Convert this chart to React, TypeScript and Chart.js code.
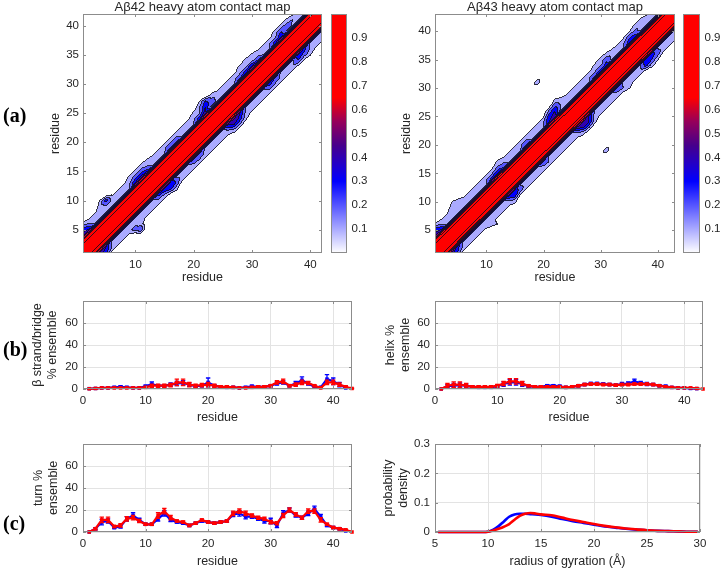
import React, { useEffect, useRef } from 'react';
import { Chart, registerables } from 'chart.js';
Chart.register(...registerables);

const FONT = '"Liberation Sans", Arial, Helvetica, sans-serif';
const TEXT = '#262626';
const AXIS = '#8c8c8c';
const GRID = '#e3e3e3';
const BLUE = '#0000ff';
const RED = '#ff0000';

// ---------------- (a) contact maps ----------------
const nRes42 = 42;
const nRes43 = 43;
const mapTicksX = [10, 20, 30, 40];
const mapTicksY = [5, 10, 15, 20, 25, 30, 35, 40];
const contourLevels = [0.1, 0.2, 0.3, 0.4, 0.5, 0.6, 0.7, 0.8, 0.9];
const colorbarTicks = [0.1, 0.2, 0.3, 0.4, 0.5, 0.6, 0.7, 0.8, 0.9];
// colormap stops: [value, r, g, b]
const colormapStops = [
  [0, 255, 255, 255],
  [0.3, 0, 0, 255],
  [0.45, 70, 0, 140],
  [0.55, 150, 0, 90],
  [0.65, 255, 0, 0],
  [1, 255, 0, 0],
];
// contact probability vs sequence separation |i-j|
const bandProfile42 = [1.0, 0.95, 0.85, 0.19, 0.17, 0.07, 0.0];
const bandProfile43 = [1.0, 0.95, 0.85, 0.19, 0.17, 0.07, 0.0];
// additional contacts: [x residue, y residue, probability]
const contacts42 = [
  [1, 4, 0.45], [2, 5, 0.4], [1, 5, 0.35], [2, 6, 0.2], [1, 6, 0.12],
  [5, 9, 0.2], [5, 10, 0.35], [4, 9, 0.15], [4, 10, 0.12], [6, 10, 0.18],
  [10, 13, 0.4], [11, 14, 0.45], [12, 15, 0.35], [10, 14, 0.25], [11, 15, 0.25], [10, 15, 0.14], [11, 16, 0.14], [9, 14, 0.12], [12, 17, 0.1],
  [16, 19, 0.3], [17, 20, 0.3], [16, 20, 0.18], [17, 21, 0.18],
  [21, 24, 0.35], [22, 25, 0.45], [22, 26, 0.4], [22, 27, 0.3], [21, 26, 0.18], [23, 27, 0.25], [23, 28, 0.14], [21, 27, 0.1], [20, 25, 0.12],
  [28, 31, 0.3], [29, 32, 0.35], [30, 33, 0.4], [31, 34, 0.3], [28, 33, 0.14], [29, 34, 0.15], [30, 35, 0.12],
  [34, 37, 0.35], [35, 38, 0.4], [35, 39, 0.3], [36, 40, 0.25], [34, 39, 0.14], [35, 40, 0.14], [36, 41, 0.12], [37, 41, 0.2],
  [4, 1, 0.45], [5, 2, 0.4], [5, 1, 0.35], [6, 2, 0.2],
  [10, 5, 0.25], [11, 5, 0.3], [10, 6, 0.18], [11, 6, 0.15],
  [14, 11, 0.35], [15, 12, 0.4], [16, 13, 0.4], [16, 12, 0.35], [17, 13, 0.3], [17, 12, 0.15], [15, 11, 0.2],
  [20, 17, 0.3], [21, 18, 0.3], [21, 17, 0.2],
  [26, 23, 0.4], [27, 24, 0.5], [28, 25, 0.4], [27, 23, 0.4], [28, 24, 0.35], [27, 22, 0.15], [28, 23, 0.18], [29, 24, 0.12], [26, 22, 0.2],
  [33, 30, 0.35], [34, 31, 0.3], [33, 29, 0.2], [34, 30, 0.2],
  [38, 35, 0.4], [39, 36, 0.35], [38, 34, 0.3], [39, 35, 0.25], [40, 35, 0.12], [40, 36, 0.2],
];
const contacts43 = [
  [1, 4, 0.45], [2, 5, 0.4], [1, 5, 0.35], [2, 6, 0.2], [1, 6, 0.12],
  [5, 9, 0.18], [5, 10, 0.16], [4, 9, 0.14], [4, 10, 0.1],
  [11, 14, 0.35], [12, 15, 0.4], [13, 16, 0.3], [12, 16, 0.22], [12, 17, 0.13], [13, 17, 0.15], [11, 15, 0.18],
  [17, 20, 0.3], [17, 21, 0.15],
  [21, 24, 0.4], [22, 25, 0.45], [21, 25, 0.35], [22, 26, 0.4], [21, 26, 0.2], [22, 27, 0.25], [23, 27, 0.2], [22, 28, 0.1], [23, 28, 0.13],
  [29, 32, 0.3], [30, 33, 0.35], [31, 34, 0.35], [31, 35, 0.25], [30, 35, 0.15], [31, 36, 0.12], [29, 34, 0.12],
  [35, 38, 0.35], [36, 39, 0.35], [35, 39, 0.25], [36, 40, 0.22], [36, 41, 0.12], [37, 42, 0.12],
  [19, 31, 0.18],
  [4, 1, 0.45], [5, 2, 0.35], [5, 1, 0.3], [6, 2, 0.15],
  [11, 6, 0.15], [12, 6, 0.1], [10, 6, 0.14],
  [14, 11, 0.4], [15, 12, 0.4], [15, 11, 0.35], [15, 10, 0.14], [16, 12, 0.25],
  [20, 17, 0.3], [21, 17, 0.2],
  [26, 23, 0.45], [27, 24, 0.5], [28, 25, 0.4], [27, 23, 0.4], [28, 24, 0.4], [28, 23, 0.2], [27, 22, 0.14], [29, 24, 0.14],
  [33, 30, 0.3], [34, 30, 0.2], [35, 30, 0.12],
  [38, 35, 0.4], [39, 36, 0.35], [38, 34, 0.35], [39, 34, 0.16], [39, 35, 0.3], [40, 36, 0.25], [40, 35, 0.12],
  [31, 19, 0.18],
];

// ---------------- (b), (c) secondary structure ----------------
const residues42 = Array.from({ length: 42 }, (_, i) => i + 1);
const residues43 = Array.from({ length: 43 }, (_, i) => i + 1);
const residueTicks = [0, 10, 20, 30, 40];
const percentTicks = [0, 20, 40, 60];

const strand42 = [0.3, 0.5, 1, 1, 1.5, 2, 1.5, 1, 1, 2.5, 4.5, 3, 3, 4, 5, 5.5, 4, 2.5, 3, 6, 3, 2, 1.5, 1.5, 1, 1.5, 2.5, 2, 2, 3, 5, 6, 3, 5, 8, 5, 2, 1.5, 9, 7, 4, 1];
const strand42Err = [0.3, 0.5, 0.5, 0.5, 0.8, 1, 0.8, 0.5, 0.5, 1, 2, 1, 1, 1.5, 2, 2, 1.5, 1, 1, 4, 1, 1, 0.8, 0.8, 0.5, 0.8, 1, 1, 1, 1, 1.5, 1.5, 1, 2, 3, 1.5, 1, 0.8, 4, 3, 2, 0.5];
const strand43 = [0.2, 0.5, 1, 1, 1, 1, 1, 1, 1, 1.5, 3, 3, 3, 3.5, 6, 6, 4, 3, 3.5, 4, 3, 2, 2, 1.5, 1, 1, 1.5, 2, 2, 3, 6, 7, 3, 4, 6, 5.5, 3, 1, 6, 6, 4, 2, 0.5];
const strand43Err = [0.2, 0.3, 0.5, 0.5, 0.5, 0.5, 0.5, 0.5, 0.5, 0.8, 1.5, 1.5, 1.5, 1.5, 3, 3, 2, 1.5, 1.5, 2, 1.5, 1, 1, 0.8, 0.5, 0.5, 0.8, 1, 1, 1, 1.5, 2, 1, 1.5, 2, 1.5, 1, 0.5, 2, 2, 1.5, 1, 0.3];

const helix42 = [0, 2.5, 3, 3.5, 3, 2, 1.5, 1.5, 1.5, 2.5, 4.5, 6, 6, 4.5, 2.5, 2, 2, 3, 3, 2.5, 1.5, 2, 3, 4, 5, 5, 4.5, 4, 3.5, 4.5, 5, 7, 5.5, 4.5, 4, 3, 2.5, 1.5, 1, 1, 0.5, 0.3];
const helix42Err = [0, 1.5, 2, 2, 1.5, 1, 0.8, 0.8, 0.8, 1, 2, 2.5, 2.5, 2, 1, 1, 1, 1, 1, 1, 0.8, 1, 1, 1, 1, 1, 1, 1, 1, 1.5, 1.5, 2, 1.5, 1.5, 1, 1, 1, 0.5, 0.5, 0.5, 0.3, 0.2];
const helix43 = [0, 3, 4, 4, 3, 2, 2, 2, 2, 3, 5, 7, 7, 5, 3, 2, 2, 2, 2, 2, 1.5, 2, 3, 4, 4.5, 4.5, 4, 4, 3.5, 4, 4, 4.5, 4.5, 4.5, 4, 3, 2, 1.5, 1, 1, 1, 0.5, 0];
const helix43Err = [0, 2, 2.5, 2.5, 2, 1, 1, 1, 1, 1.2, 2, 2.5, 2.5, 2, 1, 1, 1, 1, 1, 1, 0.8, 1, 1, 1, 1, 1, 1, 1, 1, 1, 1, 1, 1, 1, 1, 0.8, 0.8, 0.5, 0.5, 0.5, 0.5, 0.3, 0];

const turn42 = [0, 3, 9, 10, 4, 5, 12, 15, 11, 7, 7, 12, 17, 11, 9, 8, 6, 8, 10, 9, 8, 9, 10, 16, 17, 14, 14, 12, 10, 10, 6, 17, 20, 15, 13, 17, 21, 14, 6, 4, 3, 1];
const turn42Err = [0, 1, 2.5, 2, 1, 1.5, 2, 2.5, 1.5, 1, 1, 2, 2.5, 1.5, 1, 1, 1, 1, 1, 1, 1, 1, 1, 2, 2.5, 2, 1.5, 1.5, 2, 2.5, 2, 2.5, 2, 1.5, 1.5, 2, 2.5, 2, 1, 1, 1, 0.5];
const turn43 = [0, 3, 11, 11, 5, 6, 12, 13, 10, 7, 7, 15, 19, 13, 10, 9, 6, 8, 11, 9, 8, 9, 10, 17, 19, 17, 15, 13, 12, 9, 8, 15, 20, 16, 13, 19, 19, 11, 7, 4, 3, 2, 0];
const turn43Err = [0, 1, 2.5, 2.5, 1, 1.5, 2, 2, 1.5, 1, 1, 2.5, 2.5, 2, 1, 1, 1, 1, 1, 1, 1, 1, 1, 2, 2, 2, 1.5, 1.5, 1.5, 1.5, 1.5, 2, 2, 1.5, 1.5, 2, 2, 2, 1, 1, 1, 0.5, 0];

// ---------------- (c) radius of gyration ----------------
const rgAxis = [5.3, 6, 7, 8, 9, 9.5, 10, 10.5, 11, 11.5, 12, 12.5, 13, 13.5, 14, 14.5, 15, 16, 17, 18, 19, 20, 21, 22, 23, 24, 25, 26, 27, 28, 29, 29.8];
const rgDensity42 = [0, 0, 0, 0, 0, 0, 0.001, 0.008, 0.02, 0.036, 0.052, 0.06, 0.062, 0.062, 0.061, 0.06, 0.058, 0.052, 0.044, 0.037, 0.031, 0.025, 0.019, 0.015, 0.011, 0.008, 0.006, 0.004, 0.003, 0.002, 0.001, 0.001];
const rgDensity43 = [0, 0, 0, 0, 0, 0, 0.001, 0.005, 0.011, 0.018, 0.027, 0.042, 0.055, 0.062, 0.065, 0.063, 0.06, 0.057, 0.049, 0.041, 0.034, 0.027, 0.021, 0.016, 0.012, 0.009, 0.006, 0.004, 0.003, 0.002, 0.001, 0.001];
const rgTicks = [5, 10, 15, 20, 25, 30];
const densityTicks = [0, 0.1, 0.2, 0.3];

// ---------------- helpers ----------------
function buildMatrix(n: number, profile: number[], contacts: number[][]) {
  const m: number[][] = [];
  for (let j = 0; j < n; j++) {
    const row: number[] = [];
    for (let i = 0; i < n; i++) {
      const d = Math.abs(i - j);
      row.push(d < profile.length ? profile[d] : 0);
    }
    m.push(row);
  }
  for (const [x, y, p] of contacts) {
    m[y - 1][x - 1] = Math.max(m[y - 1][x - 1], p);
  }
  return m;
}

function cmap(v: number): number[] {
  for (let k = 1; k < colormapStops.length; k++) {
    const a = colormapStops[k - 1];
    const b = colormapStops[k];
    if (v <= b[0]) {
      const t = (v - a[0]) / (b[0] - a[0]);
      return [a[1] + (b[1] - a[1]) * t, a[2] + (b[2] - a[2]) * t, a[3] + (b[3] - a[3]) * t];
    }
  }
  const l = colormapStops[colormapStops.length - 1];
  return [l[1], l[2], l[3]];
}

// linear interpolation on triangles split parallel to the main diagonal
function sample(m: number[][], X: number, Y: number) {
  const n = m.length;
  const cx = Math.min(Math.max(X, 1), n);
  const cy = Math.min(Math.max(Y, 1), n);
  let i0 = Math.floor(cx);
  let j0 = Math.floor(cy);
  if (i0 >= n) i0 = n - 1;
  if (j0 >= n) j0 = n - 1;
  const fx = cx - i0;
  const fy = cy - j0;
  const A = m[j0 - 1][i0 - 1], B = m[j0 - 1][i0], C = m[j0][i0 - 1], D = m[j0][i0];
  if (fy >= fx) return A + (D - C) * fx + (C - A) * fy;
  return A + (B - A) * fx + (D - B) * fy;
}

const contourPlugin = {
  id: 'contourFill',
  beforeDatasetsDraw(chart: any, _args: any, opts: any) {
    const m = opts && opts.matrix;
    if (!m) return;
    const { left, top, right, bottom } = chart.chartArea;
    const x0 = Math.round(left), y0 = Math.round(top);
    const w = Math.round(right) - x0, h = Math.round(bottom) - y0;
    const xs = chart.scales.x, ys = chart.scales.y;
    const colX = new Float64Array(w);
    const rowY = new Float64Array(h);
    for (let i = 0; i < w; i++) colX[i] = xs.getValueForPixel(x0 + i + 0.5);
    for (let j = 0; j < h; j++) rowY[j] = ys.getValueForPixel(y0 + j + 0.5);
    const lvl = new Int8Array(w * h);
    for (let j = 0; j < h; j++) {
      for (let i = 0; i < w; i++) {
        const v = sample(m, colX[i], rowY[j]);
        let k = 0;
        while (k < contourLevels.length && v >= contourLevels[k]) k++;
        lvl[j * w + i] = k;
      }
    }
    const fills = [[255, 255, 255], ...contourLevels.map((L) => cmap(L))];
    const off = document.createElement('canvas');
    off.width = w;
    off.height = h;
    const octx = off.getContext('2d')!;
    const img = octx.createImageData(w, h);
    for (let j = 0; j < h; j++) {
      for (let i = 0; i < w; i++) {
        const p = j * w + i;
        const k = lvl[p];
        let c = fills[k];
        const edge = (i + 1 < w && lvl[p + 1] !== k) || (j + 1 < h && lvl[p + w] !== k);
        if (edge) {
          const t = 0.85;
          c = [c[0] * (1 - t) + 15 * t, c[1] * (1 - t) + 15 * t, c[2] * (1 - t) + 30 * t];
        }
        img.data[p * 4] = c[0];
        img.data[p * 4 + 1] = c[1];
        img.data[p * 4 + 2] = c[2];
        img.data[p * 4 + 3] = 255;
      }
    }
    octx.putImageData(img, 0, 0);
    chart.ctx.drawImage(off, x0, y0);
  },
};

const boxPlugin = {
  id: 'matlabBox',
  afterDatasetsDraw(chart: any, _args: any, opts: any) {
    const ctx = chart.ctx;
    const { left, top, right, bottom } = chart.chartArea;
    ctx.save();
    ctx.strokeStyle = AXIS;
    ctx.lineWidth = 1;
    ctx.strokeRect(left + 0.5, top + 0.5, right - left - 1, bottom - top - 1);
    const tl = opts && opts.tickLength != null ? opts.tickLength : 0;
    if (tl > 0) {
      ctx.beginPath();
      const xs = chart.scales.x, ys = chart.scales.y;
      if (xs && xs.ticks) {
        for (const t of xs.ticks) {
          const p = Math.round(xs.getPixelForValue(t.value)) + 0.5;
          ctx.moveTo(p, bottom); ctx.lineTo(p, bottom - tl);
          ctx.moveTo(p, top); ctx.lineTo(p, top + tl);
        }
      }
      if (ys && ys.ticks) {
        for (const t of ys.ticks) {
          const p = Math.round(ys.getPixelForValue(t.value)) + 0.5;
          ctx.moveTo(left, p); ctx.lineTo(left + tl, p);
          ctx.moveTo(right, p); ctx.lineTo(right - tl, p);
        }
      }
      ctx.stroke();
    }
    ctx.restore();
  },
};

const topTitlePlugin = {
  id: 'topTitle',
  afterDraw(chart: any, _args: any, opts: any) {
    if (!opts || !opts.text) return;
    const ctx = chart.ctx;
    const a = chart.chartArea;
    ctx.save();
    ctx.font = `${opts.size || 13}px ${FONT}`;
    ctx.fillStyle = TEXT;
    ctx.textAlign = 'center';
    ctx.textBaseline = 'middle';
    ctx.fillText(opts.text, (a.left + a.right) / 2, a.top - (opts.offset || 7));
    ctx.restore();
  },
};

const errorBarPlugin = {
  id: 'errorBars',
  afterDatasetDraw(chart: any, args: any) {
    const ds = chart.data.datasets[args.index];
    if (!ds.errors) return;
    const ys = chart.scales.y;
    const ctx = chart.ctx;
    const a = chart.chartArea;
    ctx.save();
    ctx.beginPath();
    ctx.rect(a.left - 4, a.top, a.right - a.left + 8, a.bottom - a.top + 4);
    ctx.clip();
    ctx.strokeStyle = ds.borderColor;
    ctx.lineWidth = 1.3;
    ctx.beginPath();
    args.meta.data.forEach((pt: any, k: number) => {
      const e = ds.errors[k];
      if (!e) return;
      const v = ds.data[k].y;
      const y1 = ys.getPixelForValue(v + e);
      const y2 = ys.getPixelForValue(v - e);
      ctx.moveTo(pt.x, y1); ctx.lineTo(pt.x, y2);
      ctx.moveTo(pt.x - 2.2, y1); ctx.lineTo(pt.x + 2.2, y1);
      ctx.moveTo(pt.x - 2.2, y2); ctx.lineTo(pt.x + 2.2, y2);
    });
    ctx.stroke();
    ctx.restore();
  },
};

const tickFont = { family: FONT, size: 11.5 };
const labelFont = { family: FONT, size: 12.5, lineHeight: 1.2 };

function fixedAxis(size: number, horizontal: boolean) {
  return (s: any) => {
    if (horizontal) s.height = size; else s.width = size;
    s.paddingLeft = 0; s.paddingRight = 0; s.paddingTop = 0; s.paddingBottom = 0;
  };
}

function setTicks(values: number[]) {
  return (s: any) => { s.ticks = values.map((v) => ({ value: v })); };
}

function mapConfig(title: string, n: number, matrix: number[][], yWidth: number, yTitlePad: number) {
  return {
    type: 'scatter',
    data: { datasets: [{ data: [] as any[], pointRadius: 0 }] },
    options: {
      responsive: false,
      animation: false,
      events: [],
      layout: { padding: { top: 14, right: 8, left: 0, bottom: 0 } },
      plugins: {
        legend: { display: false },
        tooltip: { enabled: false },
        contourFill: { matrix },
        topTitle: { text: title, size: 13, offset: 7 },
        matlabBox: { tickLength: 3 },
      },
      scales: {
        x: {
          type: 'linear', min: 1, max: n,
          afterBuildTicks: setTicks(mapTicksX),
          afterFit: fixedAxis(37, true),
          grid: { display: false, drawTicks: false },
          border: { display: false },
          ticks: { color: TEXT, font: tickFont, padding: 4.5, maxRotation: 0, autoSkip: false },
          title: { display: true, text: 'residue', color: TEXT, font: labelFont, padding: { top: 0, bottom: 4.5 } },
        },
        y: {
          type: 'linear', min: 1, max: n,
          afterBuildTicks: setTicks(mapTicksY),
          afterFit: fixedAxis(yWidth, false),
          grid: { display: false, drawTicks: false },
          border: { display: false },
          ticks: { color: TEXT, font: tickFont, padding: 4, autoSkip: false },
          title: { display: true, text: 'residue', color: TEXT, font: labelFont, padding: { top: yTitlePad, bottom: 0 } },
        },
      },
    },
    plugins: [contourPlugin, boxPlugin, topTitlePlugin],
  };
}

function colorbarGradient(chart: any) {
  const a = chart.chartArea;
  const y = chart.scales.y;
  if (!a || !y) return 'rgba(0,0,0,0)';
  const g = chart.ctx.createLinearGradient(0, y.getPixelForValue(0), 0, y.getPixelForValue(1));
  colormapStops.forEach((s) => g.addColorStop(s[0], `rgb(${s[1]},${s[2]},${s[3]})`));
  return g;
}

function colorbarConfig() {
  return {
    type: 'bar',
    data: {
      labels: [''],
      datasets: [{
        data: [1],
        backgroundColor: (c: any) => colorbarGradient(c.chart),
        borderWidth: 0,
        barPercentage: 1,
        categoryPercentage: 1,
      }],
    },
    options: {
      responsive: false,
      animation: false,
      events: [],
      layout: { padding: 0 },
      plugins: { legend: { display: false }, tooltip: { enabled: false }, matlabBox: { tickLength: 0 } },
      scales: {
        x: { display: false },
        y: {
          position: 'right', min: 0, max: 1,
          afterBuildTicks: setTicks(colorbarTicks),
          afterFit: fixedAxis(24, false),
          grid: { display: false, drawTicks: false },
          border: { display: false },
          ticks: { color: TEXT, font: tickFont, padding: 4.5, autoSkip: false, callback: (v: any) => Number(v).toFixed(1) },
        },
      },
    },
    plugins: [boxPlugin],
  };
}

function markerSeries(xs: number[], ys: number[], errs: number[], color: string, order: number) {
  return {
    data: xs.map((x, i) => ({ x, y: ys[i] })),
    errors: errs,
    order,
    showLine: true,
    borderColor: color,
    backgroundColor: color,
    borderWidth: 2.2,
    pointStyle: 'rect',
    pointRadius: 2.5,
    pointBorderWidth: 0,
    pointBackgroundColor: color,
    tension: 0,
    clip: 4,
  };
}

function curveSeries(xs: number[], ys: number[], color: string, order: number) {
  return {
    data: xs.map((x, i) => ({ x, y: ys[i] })),
    order,
    showLine: true,
    borderColor: color,
    backgroundColor: color,
    borderWidth: 2.6,
    pointRadius: 0,
    cubicInterpolationMode: 'monotone',
    clip: 4,
  };
}

function seriesConfig(o: any) {
  return {
    type: 'scatter',
    data: { datasets: o.datasets },
    options: {
      responsive: false,
      animation: false,
      events: [],
      layout: { padding: { top: o.padTop, right: o.padRight, left: 0, bottom: 0 } },
      plugins: { legend: { display: false }, tooltip: { enabled: false }, matlabBox: { tickLength: 3 } },
      scales: {
        x: {
          type: 'linear', min: o.xMin, max: o.xMax,
          afterBuildTicks: setTicks(o.xTicks),
          afterFit: fixedAxis(o.xHeight, true),
          grid: { color: GRID, lineWidth: 1, drawTicks: false },
          border: { display: false },
          ticks: { color: TEXT, font: tickFont, padding: 4.5, maxRotation: 0, autoSkip: false },
          title: { display: true, text: o.xTitle, color: TEXT, font: labelFont, padding: { top: 0, bottom: o.xTitlePad } },
        },
        y: {
          type: 'linear', min: 0, max: o.yMax,
          afterBuildTicks: setTicks(o.yTicks),
          afterFit: fixedAxis(o.yWidth, false),
          grid: { color: GRID, lineWidth: 1, drawTicks: false },
          border: { display: false },
          ticks: { color: TEXT, font: tickFont, padding: 5, autoSkip: false, callback: o.yFmt || ((v: any) => String(v)) },
          title: { display: true, text: o.yTitle, color: TEXT, font: labelFont, padding: { top: o.yTitlePad, bottom: 0 } },
        },
      },
    },
    plugins: [errorBarPlugin, boxPlugin],
  };
}

function ChartCanvas(props: { left: number; top: number; width: number; height: number; make: () => any }) {
  const ref = useRef<HTMLCanvasElement>(null);
  useEffect(() => {
    const chart = new Chart(ref.current as HTMLCanvasElement, props.make());
    return () => chart.destroy();
  }, []);
  return (
    <canvas
      ref={ref}
      width={props.width}
      height={props.height}
      style={{ position: 'absolute', left: props.left, top: props.top, width: props.width, height: props.height }}
    />
  );
}

const letterStyle = (top: number): React.CSSProperties => ({
  position: 'absolute',
  left: 3,
  top,
  fontFamily: '"Liberation Serif", "Times New Roman", serif',
  fontWeight: 'bold',
  fontSize: 20,
  lineHeight: '20px',
  color: '#000',
});

export default function App() {
  const m42 = buildMatrix(nRes42, bandProfile42, contacts42);
  const m43 = buildMatrix(nRes43, bandProfile43, contacts43);
  return (
    <div style={{ position: 'absolute', left: 0, top: 0, width: 724, height: 570, background: '#fff', overflow: 'hidden' }}>
      <ChartCanvas left={0} top={0} width={330} height={290} make={() => mapConfig('A\u03b242 heavy atom contact map', nRes42, m42, 83, 48.5)} />
      <ChartCanvas left={370} top={0} width={313} height={290} make={() => mapConfig('A\u03b243 heavy atom contact map', nRes43, m43, 65, 29.5)} />
      <ChartCanvas left={331} top={14} width={40} height={239} make={colorbarConfig} />
      <ChartCanvas left={683} top={14} width={41} height={239} make={colorbarConfig} />
      <ChartCanvas
        left={0} top={285} width={362} height={141}
        make={() => seriesConfig({
          datasets: [markerSeries(residues42, strand42, strand42Err, BLUE, 1), markerSeries(residues43, strand43, strand43Err, RED, 0)],
          xMin: 0, xMax: 43, xTicks: residueTicks, yMax: 80, yTicks: percentTicks,
          xTitle: 'residue', yTitle: ['\u03b2 strand/bridge', '% ensemble'],
          yWidth: 83, yTitlePad: 30.5, padTop: 16, padRight: 10, xHeight: 37, xTitlePad: 1,
        })}
      />
      <ChartCanvas
        left={370} top={285} width={343} height={141}
        make={() => seriesConfig({
          datasets: [markerSeries(residues42, helix42, helix42Err, BLUE, 1), markerSeries(residues43, helix43, helix43Err, RED, 0)],
          xMin: 0, xMax: 43, xTicks: residueTicks, yMax: 80, yTicks: percentTicks,
          xTitle: 'residue', yTitle: ['helix %', 'ensemble'],
          yWidth: 65, yTitlePad: 13.5, padTop: 16, padRight: 10, xHeight: 37, xTitlePad: 1,
        })}
      />
      <ChartCanvas
        left={0} top={426} width={362} height={144}
        make={() => seriesConfig({
          datasets: [markerSeries(residues42, turn42, turn42Err, BLUE, 1), markerSeries(residues43, turn43, turn43Err, RED, 0)],
          xMin: 0, xMax: 43, xTicks: residueTicks, yMax: 80, yTicks: percentTicks,
          xTitle: 'residue', yTitle: ['turn %', 'ensemble'],
          yWidth: 83, yTitlePad: 31.5, padTop: 18, padRight: 10, xHeight: 38, xTitlePad: 0.5,
        })}
      />
      <ChartCanvas
        left={370} top={426} width={340} height={144}
        make={() => seriesConfig({
          datasets: [curveSeries(rgAxis, rgDensity42, BLUE, 1), curveSeries(rgAxis, rgDensity43, RED, 0)],
          xMin: 5, xMax: 30, xTicks: rgTicks, yMax: 0.3, yTicks: densityTicks,
          yFmt: (v: any) => (Number(v) === 0 ? '0' : Number(v).toFixed(1)),
          xTitle: 'radius of gyration (\u00c5)', yTitle: ['probability', 'density'],
          yWidth: 65, yTitlePad: 11.5, padTop: 18, padRight: 10, xHeight: 38, xTitlePad: 0.5,
        })}
      />
      <div style={letterStyle(105)}>(a)</div>
      <div style={letterStyle(339)}>(b)</div>
      <div style={letterStyle(513)}>(c)</div>
    </div>
  );
}
